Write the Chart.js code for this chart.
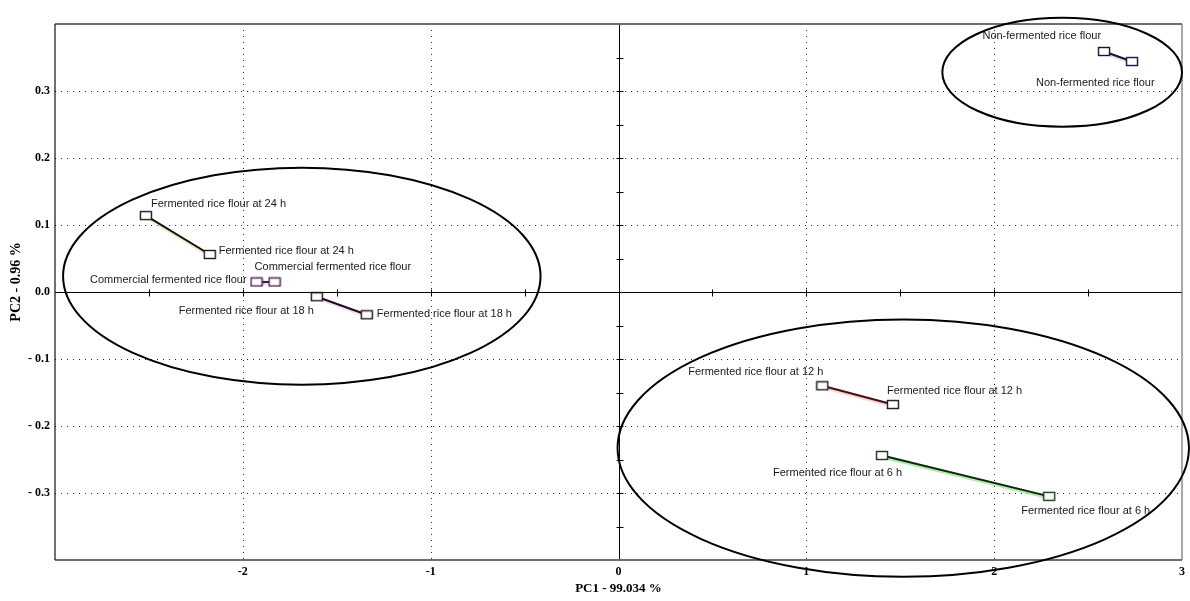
<!DOCTYPE html>
<html>
<head>
<meta charset="utf-8">
<script src="https://cdn.jsdelivr.net/npm/chart.js@4/dist/chart.umd.min.js"></script>
<style>
  html, body { margin: 0; padding: 0; background: #fff; }
  #wrap { width: 1190px; height: 601px; }
</style>
</head>
<body>
<div id="wrap"><canvas id="pca" width="1190" height="601"></canvas></div>
<script>
// PCA score plot: two replicate scores per rice flour sample, joined by a line.
const sampleNames = [
  'Non-fermented rice flour',
  'Fermented rice flour at 24 h',
  'Commercial fermented rice flour',
  'Fermented rice flour at 18 h',
  'Fermented rice flour at 12 h',
  'Fermented rice flour at 6 h'
];
const pc1Scores = [
  [2.585, 2.734],
  [-2.516, -2.176],
  [-1.927, -1.831],
  [-1.606, -1.340],
  [1.085, 1.461],
  [1.403, 2.293]
];
const pc2Scores = [
  [0.359, 0.344],
  [0.114, 0.056],
  [0.015, 0.015],
  [-0.007, -0.034],
  [-0.140, -0.168],
  [-0.244, -0.305]
];
const xTickValues = [-3, -2, -1, 0, 1, 2, 3];
const yTickValues = [-0.4, -0.3, -0.2, -0.1, 0.0, 0.1, 0.2, 0.3, 0.4];
const axisTitles = { x: 'PC1 - 99.034 %', y: 'PC2 - 0.96 %' };

// Grouping ellipses in score units: centre (cx, cy) and semi-axes (rx, ry)
const groupCx = [-1.686, 2.362, 1.516];
const groupCy = [0.0236, 0.328, -0.233];
const groupRx = [1.271, 0.638, 1.521];
const groupRy = [0.162, 0.0813, 0.192];

// ---- styling ----
const lineColors = ['#14143c', '#111111', '#3a163a', '#1e0c1e', '#4a1010', '#102410'];
const glowColors = ['rgba(90,90,160,0.18)', 'rgba(230,200,120,0.40)', 'rgba(200,120,200,0.28)',
                    'rgba(220,130,200,0.25)', 'rgba(230,120,120,0.30)', 'rgba(110,220,110,0.55)'];
const boxColors = ['#14143c', '#1a1a1a', '#4a1f4a', '#1a1a1a', '#1a1a1a', '#1c361c'];

// label placement relative to each marker (pixels), [dx, dy, align]
const labelPlacement = [
  [[-3, -16, 'right'], [-96, 21, 'left']],
  [[5, -12, 'left'], [9, -4, 'left']],
  [[-10, -2, 'right'], [-20, -15, 'left']],
  [[-3, 14, 'right'], [10, -1, 'left']],
  [[1, -14, 'right'], [-6, -14, 'left']],
  [[20, 17, 'right'], [-28, 15, 'left']]
];

function makeBox(w, h, color) {
  const c = document.createElement('canvas');
  c.width = w + 2; c.height = h + 2;
  const g = c.getContext('2d');
  g.fillStyle = '#fff';
  g.fillRect(1, 1, w, h);
  g.strokeStyle = color;
  g.lineWidth = 1.4;
  g.strokeRect(1.5, 1.5, w - 1, h - 1);
  return c;
}

const datasets = sampleNames.map((name, i) => ({
  label: name,
  data: pc1Scores[i].map((x, j) => ({ x: x, y: pc2Scores[i][j] })),
  showLine: true,
  borderColor: lineColors[i],
  borderWidth: 2,
  pointStyle: makeBox(12, 9, boxColors[i]),
  pointRadius: 5,
  glow: glowColors[i],
  pointLabels: [name, name]
}));

const SERIF = '"Liberation Serif", "Times New Roman", serif';
const SANS = '"Liberation Sans", Arial, sans-serif';

function fmtY(v) {
  const r = Math.round(v * 10) / 10;
  if (Math.abs(r) >= 0.4) return '';
  if (r < 0) return '- ' + Math.abs(r).toFixed(1);
  return Math.abs(r).toFixed(1);
}
function fmtX(v) {
  const r = Math.round(v);
  if (r <= -3) return '';
  return r < 0 ? '-' + Math.abs(r) : String(r);
}

const plotDecor = {
  id: 'plotDecor',
  beforeDatasetsDraw(chart) {
    const { ctx, chartArea: a, scales: { x, y } } = chart;
    ctx.save();
    // dotted grid
    ctx.strokeStyle = '#2a2a2a';
    ctx.lineWidth = 1;
    ctx.setLineDash([1, 5]);
    xTickValues.forEach(v => {
      if (v === 0 || v === x.min || v === x.max) return;
      const px = Math.round(x.getPixelForValue(v)) + 0.5;
      ctx.beginPath(); ctx.moveTo(px, a.top); ctx.lineTo(px, a.bottom); ctx.stroke();
    });
    yTickValues.forEach(v => {
      if (Math.abs(v) < 1e-9 || Math.abs(Math.abs(v) - 0.4) < 1e-9) return;
      const py = Math.round(y.getPixelForValue(v)) + 0.5;
      ctx.beginPath(); ctx.moveTo(a.left, py); ctx.lineTo(a.right, py); ctx.stroke();
    });
    ctx.setLineDash([]);
    // zero axes
    ctx.strokeStyle = '#000';
    const x0 = Math.round(x.getPixelForValue(0)) + 0.5;
    const y0 = Math.round(y.getPixelForValue(0)) + 0.5;
    ctx.beginPath(); ctx.moveTo(x0, a.top); ctx.lineTo(x0, a.bottom); ctx.stroke();
    ctx.beginPath(); ctx.moveTo(a.left, y0); ctx.lineTo(a.right, y0); ctx.stroke();
    // minor ticks on the zero axes
    for (let v = -0.35; v < 0.4; v += 0.05) {
      const py = Math.round(y.getPixelForValue(v)) + 0.5;
      ctx.beginPath(); ctx.moveTo(x0 - 3, py); ctx.lineTo(x0 + 4, py); ctx.stroke();
    }
    for (let v = -2.5; v < 3; v += 0.5) {
      const px = Math.round(x.getPixelForValue(v)) + 0.5;
      ctx.beginPath(); ctx.moveTo(px, y0 - 3); ctx.lineTo(px, y0 + 4); ctx.stroke();
    }
    // frame
    ctx.strokeStyle = '#6e6e6e';
    ctx.lineWidth = 2;
    ctx.beginPath(); ctx.moveTo(a.left, a.top); ctx.lineTo(a.right, a.top); ctx.stroke();
    ctx.beginPath(); ctx.moveTo(a.left, a.bottom); ctx.lineTo(a.right, a.bottom); ctx.stroke();
    ctx.lineWidth = 1.2;
    ctx.beginPath(); ctx.moveTo(a.right, a.top); ctx.lineTo(a.right, a.bottom); ctx.stroke();
    ctx.strokeStyle = '#111';
    ctx.lineWidth = 1.2;
    ctx.beginPath(); ctx.moveTo(a.left, a.top); ctx.lineTo(a.left, a.bottom); ctx.stroke();
    // soft halo along each replicate line
    chart.data.datasets.forEach((ds, i) => {
      const pts = chart.getDatasetMeta(i).data;
      if (pts.length < 2) return;
      ctx.strokeStyle = ds.glow;
      ctx.lineWidth = 4;
      ctx.lineCap = 'round';
      ctx.beginPath(); ctx.moveTo(pts[0].x, pts[0].y + 1); ctx.lineTo(pts[1].x, pts[1].y + 1); ctx.stroke();
    });
    ctx.restore();
  },
  afterDatasetsDraw(chart) {
    const { ctx, chartArea: a, scales: { x, y } } = chart;
    ctx.save();
    // point labels
    ctx.font = '11px ' + SANS;
    ctx.fillStyle = '#1a1a1a';
    ctx.textBaseline = 'middle';
    chart.data.datasets.forEach((ds, i) => {
      chart.getDatasetMeta(i).data.forEach((pt, j) => {
        const [dx, dy, align] = labelPlacement[i][j];
        ctx.textAlign = align;
        ctx.fillText(ds.pointLabels[j], pt.x + dx, pt.y + dy);
      });
    });
    // group ellipses
    ctx.strokeStyle = '#000';
    ctx.lineWidth = 2;
    groupCx.forEach((cx, k) => {
      const px = x.getPixelForValue(cx);
      const py = y.getPixelForValue(groupCy[k]);
      const rx = Math.abs(x.getPixelForValue(cx + groupRx[k]) - px);
      const ry = Math.abs(y.getPixelForValue(groupCy[k] + groupRy[k]) - py);
      ctx.beginPath();
      ctx.ellipse(px, py, rx, ry, 0, 0, Math.PI * 2);
      ctx.stroke();
    });
    // axis titles
    ctx.fillStyle = '#000';
    ctx.textAlign = 'center';
    ctx.textBaseline = 'middle';
    ctx.font = 'bold 13px ' + SERIF;
    ctx.fillText(axisTitles.x, (a.left + a.right) / 2, 589);
    ctx.font = 'bold 14px ' + SERIF;
    ctx.translate(16, 282);
    ctx.rotate(-Math.PI / 2);
    ctx.fillText(axisTitles.y, 0, 0);
    ctx.restore();
  }
};

new Chart(document.getElementById('pca'), {
  type: 'scatter',
  data: { datasets: datasets },
  options: {
    responsive: false,
    animation: false,
    devicePixelRatio: 1,
    layout: { padding: { top: 24, right: 7, left: 0, bottom: 0 } },
    plugins: { legend: { display: false }, tooltip: { enabled: false } },
    scales: {
      x: {
        type: 'linear', min: -3, max: 3,
        afterBuildTicks: s => { s.ticks = xTickValues.map(v => ({ value: v })); },
        afterFit: s => { s.height = 41; },
        grid: { display: false, drawTicks: false },
        border: { display: false },
        ticks: {
          callback: v => fmtX(v),
          color: '#000',
          padding: 5,
          maxRotation: 0,
          autoSkip: false,
          font: { family: SERIF, size: 12, weight: 'bold' }
        }
      },
      y: {
        type: 'linear', min: -0.4, max: 0.4,
        afterBuildTicks: s => { s.ticks = yTickValues.map(v => ({ value: v })); },
        afterFit: s => { s.width = 55; },
        grid: { display: false, drawTicks: false },
        border: { display: false },
        ticks: {
          callback: v => fmtY(v),
          color: '#000',
          padding: 5,
          autoSkip: false,
          font: { family: SERIF, size: 12, weight: 'bold' }
        }
      }
    }
  },
  plugins: [plotDecor]
});
</script>
</body>
</html>
